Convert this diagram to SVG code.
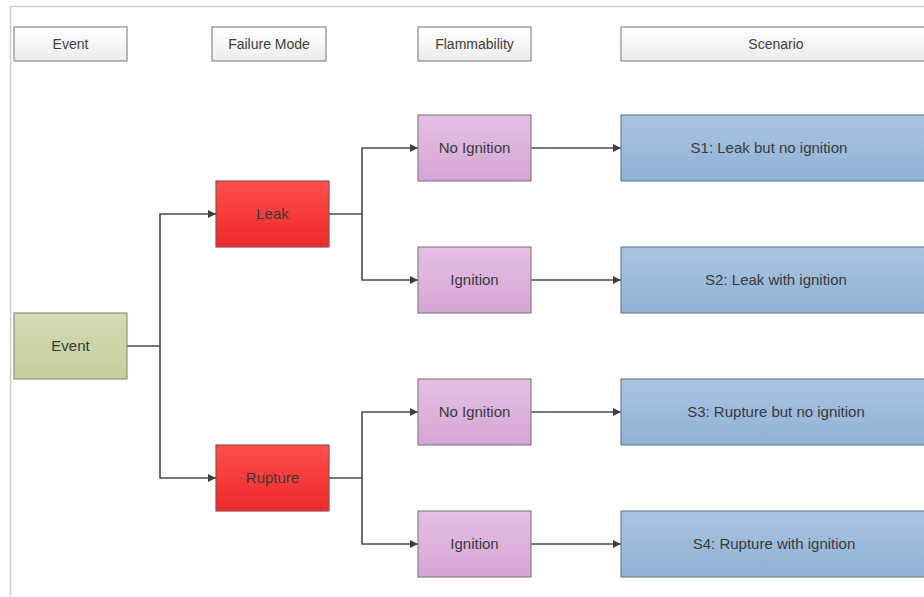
<svg xmlns="http://www.w3.org/2000/svg" width="924" height="597" viewBox="0 0 924 597">
<defs>
<linearGradient id="gHead" x1="0" y1="0" x2="0" y2="1"><stop offset="0" stop-color="#ffffff"/><stop offset="1" stop-color="#ececec"/></linearGradient>
<linearGradient id="gEvent" x1="0" y1="0" x2="0" y2="1"><stop offset="0" stop-color="#d3dbb2"/><stop offset="1" stop-color="#c4cf9c"/></linearGradient>
<linearGradient id="gRed" x1="0" y1="0" x2="0" y2="1"><stop offset="0" stop-color="#ff4d4d"/><stop offset="1" stop-color="#ee2a2a"/></linearGradient>
<linearGradient id="gPink" x1="0" y1="0" x2="0" y2="1"><stop offset="0" stop-color="#e5c0e3"/><stop offset="1" stop-color="#d5a5d3"/></linearGradient>
<linearGradient id="gBlue" x1="0" y1="0" x2="0" y2="1"><stop offset="0" stop-color="#a9c5e1"/><stop offset="1" stop-color="#8fb1d6"/></linearGradient>
<marker id="arr" viewBox="0 0 10 10" refX="10" refY="5" markerWidth="8" markerHeight="8" markerUnits="userSpaceOnUse" orient="auto"><path d="M0,0 L10,5 L0,10 z" fill="#404040"/></marker>
</defs>
<style>
.head{fill:url(#gHead);stroke:#8a8a8a;stroke-width:1.2}
.ev{fill:url(#gEvent);stroke:#8e9478;stroke-width:1.2}
.red{fill:url(#gRed);stroke:#9a4a4a;stroke-width:1.2}
.pink{fill:url(#gPink);stroke:#8f7b8e;stroke-width:1.2}
.blue{fill:url(#gBlue);stroke:#6f7f8f;stroke-width:1.2}
text{font-family:"Liberation Sans",Arial,sans-serif;font-size:15px;fill:#3a3a3a;text-anchor:middle;dominant-baseline:central}
.ht{font-size:14px;fill:#404040}
.conn{fill:none;stroke:#4a4a4a;stroke-width:1.6;marker-end:url(#arr)}
.conn0{fill:none;stroke:#4a4a4a;stroke-width:1.6}
</style>
<rect width="924" height="597" fill="#ffffff"/>
<path d="M924,6.5 H10.5 V596" fill="none" stroke="#d0d0d0" stroke-width="1.5"/>
<g id="headers">
<g id="h-event"><rect class="head" x="14" y="27" width="113" height="34"/><text class="ht" x="70.5" y="44">Event</text></g>
<g id="h-failure"><rect class="head" x="212" y="27" width="114" height="34"/><text class="ht" x="269" y="44">Failure Mode</text></g>
<g id="h-flam"><rect class="head" x="418" y="27" width="113" height="34"/><text class="ht" x="474.5" y="44">Flammability</text></g>
<g id="h-scen"><rect class="head" x="621" y="27" width="310" height="34"/><text class="ht" x="776" y="44">Scenario</text></g>
</g>
<g id="connectors">
<path class="conn0" d="M127,346 H160"/>
<path class="conn" d="M160,346 V214 H216"/>
<path class="conn" d="M160,346 V478 H216"/>
<path class="conn0" d="M329,214 H362"/>
<path class="conn" d="M362,214 V148 H418"/>
<path class="conn" d="M362,214 V280 H418"/>
<path class="conn0" d="M329,478 H362"/>
<path class="conn" d="M362,478 V412 H418"/>
<path class="conn" d="M362,478 V544 H418"/>
<path class="conn" d="M531,148 H621"/>
<path class="conn" d="M531,280 H621"/>
<path class="conn" d="M531,412 H621"/>
<path class="conn" d="M531,544 H621"/>
</g>
<g id="event"><rect class="ev" x="14" y="313" width="113" height="66"/><text x="70.5" y="345">Event</text></g>
<g id="leak"><rect class="red" x="216" y="181" width="113" height="66"/><text x="272.5" y="213">Leak</text></g>
<g id="rupture"><rect class="red" x="216" y="445" width="113" height="66"/><text x="272.5" y="477">Rupture</text></g>
<g id="noign1"><rect class="pink" x="418" y="115" width="113" height="66"/><text x="474.5" y="147">No Ignition</text></g>
<g id="ign1"><rect class="pink" x="418" y="247" width="113" height="66"/><text x="474.5" y="279">Ignition</text></g>
<g id="noign2"><rect class="pink" x="418" y="379" width="113" height="66"/><text x="474.5" y="411">No Ignition</text></g>
<g id="ign2"><rect class="pink" x="418" y="511" width="113" height="66"/><text x="474.5" y="543">Ignition</text></g>
<g id="s1"><rect class="blue" x="621" y="115" width="310" height="66"/><text x="769" y="147">S1: Leak but no ignition</text></g>
<g id="s2"><rect class="blue" x="621" y="247" width="310" height="66"/><text x="776" y="279">S2: Leak with ignition</text></g>
<g id="s3"><rect class="blue" x="621" y="379" width="310" height="66"/><text x="776" y="411">S3: Rupture but no ignition</text></g>
<g id="s4"><rect class="blue" x="621" y="511" width="310" height="66"/><text x="774" y="543">S4: Rupture with ignition</text></g>
</svg>
